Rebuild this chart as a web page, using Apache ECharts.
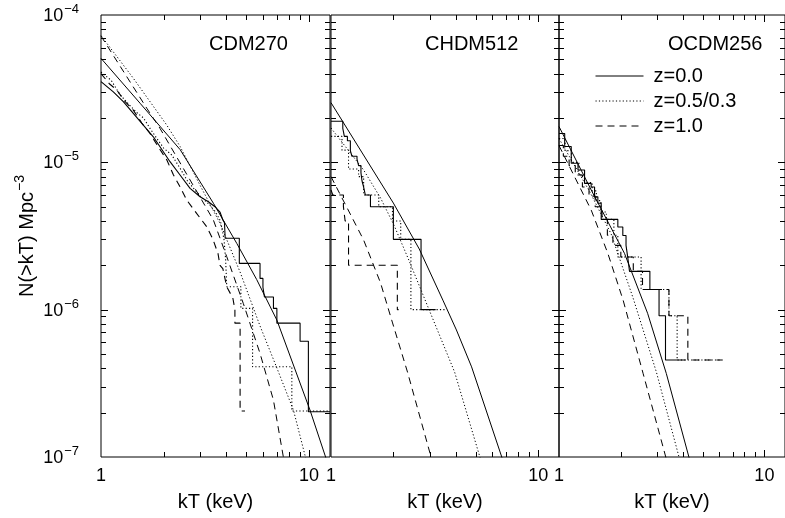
<!DOCTYPE html>
<html><head><meta charset="utf-8">
<script src="https://cdn.jsdelivr.net/npm/echarts@6/dist/echarts.min.js"></script>
<style>html,body{margin:0;padding:0;background:#fff}#c{width:785px;height:518px}</style>
</head><body><div id="c"></div>
<script>
// ---------- data (kT in keV, N(>kT) in Mpc^-3) ----------
const panelTitles = ['CDM270', 'CHDM512', 'OCDM256'];
const legendNames = ['z=0.0', 'z=0.5/0.3', 'z=1.0'];
const xTickLabelValues = [1, 10];

// CDM270 : analytic curves
const cdmFitZ0  = [[1,5.08e-5],[1.54,2.52e-5],[2.40,1.22e-5],[3.47,5.27e-6],[4.49,2.82e-6],[5.6,1.6e-6],[7.0,8.5e-7],[10.1,2.08e-7],[12.0,1e-7],[12.6,8e-8]];
const cdmFitZ05 = [[1,7.25e-5],[1.43,3.72e-5],[2.07,1.79e-5],[2.40,1.28e-5],[2.99,7.0e-6],[3.73,3.86e-6],[4.66,1.80e-6],[5.81,7.75e-7],[7.0,4.02e-7],[8.41,2.08e-7],[9.6,1e-7],[10.0,8e-8]];
const cdmFitZ1  = [[1,7.2e-5],[1.659,2.33e-5],[1.921,1.70e-5],[3.467,4.06e-6],[4.02,2.29e-6],[4.83,1.10e-6],[5.81,5.05e-7],[6.74,2.43e-7],[7.52,1e-7],[7.7,8e-8]];
// CDM270 : simulated cumulative counts (polyline through the histogram corners)
const cdmSimZ0  = [[1.0,3.53e-5],[1.146,3.01e-5],[1.28,2.58e-5],[1.43,2.15e-5],[1.597,1.79e-5],[1.784,1.49e-5],[1.993,1.18e-5],[2.146,1.01e-5],[2.398,8.2e-6],[2.679,6.66e-6],[2.992,5.84e-6],[3.28,5.4e-6],[3.53,5.0e-6],[3.73,4.6e-6],[3.85,4.06e-6],[3.92,3.9e-6],[3.95,3.05e-6],[4.62,3.05e-6],[4.62,2.06e-6],[5.81,2.06e-6],[5.81,1.63e-6],[6.0,1.63e-6],[6.0,1.42e-6],[6.10,1.42e-6],[6.10,1.22e-6],[6.74,1.22e-6],[6.74,1.02e-6],[7.0,1.02e-6],[7.0,8.1e-7],[9.05,8.1e-7],[9.05,6.1e-7],[9.92,6.1e-7],[9.92,2.03e-7],[12.6,2.03e-7]];
const cdmSimZ05 = [[1.0,4.1e-5],[1.12,3.6e-5],[1.23,2.9e-5],[1.35,2.5e-5],[1.5,2.15e-5],[1.6,2.0e-5],[1.72,1.7e-5],[1.85,1.46e-5],[2.0,1.25e-5],[2.19,1.12e-5],[2.4,9.1e-6],[2.6,7.5e-6],[2.8,6.6e-6],[3.0,5.9e-6],[3.3,5.2e-6],[3.55,4.6e-6],[3.75,4.0e-6],[3.9,3.0e-6],[3.97,2.2e-6],[4.02,1.43e-6],[4.70,1.43e-6],[4.70,1.02e-6],[5.35,1.02e-6],[5.35,4.1e-7],[8.26,4.1e-7],[8.26,2.05e-7],[12.6,2.05e-7]];
const cdmSimZ1  = [[1.0,4.0e-5],[1.1,3.4e-5],[1.19,3.1e-5],[1.3,2.6e-5],[1.43,2.26e-5],[1.57,1.85e-5],[1.72,1.57e-5],[1.9,1.25e-5],[2.07,1.04e-5],[2.23,8.2e-6],[2.4,6.8e-6],[2.58,5.55e-6],[2.88,4.5e-6],[3.22,3.66e-6],[3.45,3.0e-6],[3.65,2.4e-6],[3.73,2.0e-6],[3.85,1.9e-6],[4.02,1.43e-6],[4.3,1.2e-6],[4.4,1.0e-6],[4.4,8.1e-7],[4.66,8.1e-7],[4.66,2.05e-7],[4.92,2.05e-7]];

// CHDM512 : analytic curves
const chdmFitZ0  = [[1,2.54e-5],[2.0,5.29e-6],[2.667,2.58e-6],[3.467,1.16e-6],[4.03,7.28e-7],[4.77,4.09e-7],[6.67,1e-7],[7.0,8.2e-8]];
const chdmFitZ05 = [[1,1.71e-5],[1.437,8.87e-6],[1.734,5.73e-6],[2.013,3.75e-6],[2.375,2.17e-6],[2.82,1.2e-6],[3.95,3.77e-7],[5.23,1e-7],[5.5,8e-8]];
const chdmFitZ1  = [[1,8.0e-6],[1.437,2.97e-6],[1.734,1.52e-6],[1.976,8.24e-7],[2.34,3.77e-7],[3.04,1e-7],[3.15,8.5e-8]];
// CHDM512 : simulated (step levels, each level holds until the next kT)
const chdmSimZ0  = [[1.0,1.9e-5],[1.14,1.7e-5],[1.16,1.5e-5],[1.20,1.4e-5],[1.24,1.2e-5],[1.262,1.1e-5],[1.335,1.05e-5],[1.359,9.5e-6],[1.395,8.5e-6],[1.411,7.5e-6],[1.437,6.8e-6],[1.465,6e-6],[1.55,5e-6],[2.0,3e-6],[2.72,1e-6],[3.2,1e-6]];
const chdmSimZ05 = [[1.0,1.5e-5],[1.13,1.21e-5],[1.215,9e-6],[1.359,8e-6],[1.437,6e-6],[1.70,5e-6],[1.98,4e-6],[2.17,3e-6],[2.43,1e-6],[3.53,1e-6]];
const chdmSimZ1  = [[1.0,6.5e-6],[1.02,6e-6],[1.148,5e-6],[1.17,4e-6],[1.215,2e-6],[2.09,1e-6],[2.12,1e-6]];

// OCDM256 : analytic curves
const ocdmFitZ0  = [[1,1.75e-5],[1.435,6.49e-6],[2.084,2.41e-6],[2.70,9.45e-7],[3.33,3.69e-7],[4.29,1e-7],[4.45,8.5e-8]];
const ocdmFitZ05 = [[1,1.45e-5],[1.414,6.29e-6],[1.795,3.26e-6],[2.295,1.2e-6],[2.98,3.77e-7],[3.84,1e-7],[3.95,8.7e-8]];
const ocdmFitZ1  = [[1,1.3e-5],[1.435,4.74e-6],[1.729,2.41e-6],[2.052,1.16e-6],[2.566,3.70e-7],[3.31,1e-7],[3.4,8.7e-8]];
// OCDM256 : simulated (step levels)
const ocdmSimZ0  = [[1.0,1.57e-5],[1.066,1.28e-5],[1.147,9.85e-6],[1.237,8.87e-6],[1.332,7.2e-6],[1.434,6.8e-6],[1.49,5.83e-6],[1.546,5.27e-6],[1.605,4.1e-6],[1.934,3.64e-6],[2.045,3.19e-6],[2.12,2.73e-6],[2.16,2.28e-6],[2.205,1.82e-6],[2.77,1.37e-6],[3.07,9.1e-7],[3.30,4.55e-7],[4.14,4.55e-7]];
const ocdmSimZ05 = [[1.0,1.45e-5],[1.07,1.2e-5],[1.15,1.0e-5],[1.25,8.2e-6],[1.33,7.3e-6],[1.45,6.4e-6],[1.52,5.5e-6],[1.6,4.6e-6],[1.7,4.1e-6],[1.85,3.2e-6],[1.934,2.28e-6],[2.51,1.37e-6],[3.43,9.1e-7],[3.76,4.55e-7],[6.05,4.55e-7]];
const ocdmSimZ1  = [[1.0,1.3e-5],[1.05,1.1e-5],[1.12,9.5e-6],[1.2,8.2e-6],[1.3,6.8e-6],[1.4,5.9e-6],[1.5,5.0e-6],[1.62,4.1e-6],[1.72,3.2e-6],[1.83,2.73e-6],[2.0,2.28e-6],[2.3,1.82e-6],[2.55,1.37e-6],[3.43,9.1e-7],[4.24,4.55e-7],[6.27,4.55e-7]];

// ---------- layout ----------
const X_MIN = 1, X_MAX = 12.6, Y_MIN = 1e-7, Y_MAX = 1e-4;
const FONT = '"Liberation Sans", Arial, Helvetica, sans-serif';
const gridBoxes = [{left:101,width:229},{left:331,width:228},{left:559,width:227}];
const GRID_TOP = 15, GRID_H = 442;
const titlePos = [209, 425, 668];
const lineTypes = ['solid', [1.2, 2.2], [7, 5]];

const panels = [
  {fits:[cdmFitZ0, cdmFitZ05, cdmFitZ1],   sims:[cdmSimZ0, cdmSimZ05, cdmSimZ1],   simStep:false},
  {fits:[chdmFitZ0, chdmFitZ05, chdmFitZ1], sims:[chdmSimZ0, chdmSimZ05, chdmSimZ1], simStep:'end'},
  {fits:[ocdmFitZ0, ocdmFitZ05, ocdmFitZ1], sims:[ocdmSimZ0, ocdmSimZ05, ocdmSimZ1], simStep:'end'}
];

// tick positions (2..9 per decade)
const mults = [1,2,3,4,5,6,7,8,9];
const xTicks = [];
[0,1].forEach(e => mults.forEach(m => { const v = m*Math.pow(10,e); if (v > X_MIN && v <= X_MAX) xTicks.push({v, major: m===1}); }));
const yTicks = [];
[-7,-6,-5].forEach(e => mults.forEach(m => { const v = m*Math.pow(10,e); if (v > Y_MIN*1.0001 && v < Y_MAX*0.9999) yTicks.push({v, major: m===1}); }));

function tickSeries(i){
  return {
    type:'custom', xAxisIndex:i, yAxisIndex:i, silent:true, z:20, animation:false,
    data:[[X_MIN, Y_MIN]],
    renderItem(params, api){
      const ch = [];
      const ln = (x1,y1,x2,y2) => ch.push({type:'line', shape:{x1,y1,x2,y2}, style:{stroke:'#000', lineWidth:1}});
      xTicks.forEach(t => {
        const len = t.major ? 7 : 5;
        const b = api.coord([t.v, Y_MIN]), tp = api.coord([t.v, Y_MAX]);
        const x = Math.round(b[0]) + 0.5;
        ln(x, b[1], x, b[1]-len);
        ln(x, tp[1], x, tp[1]+len);
      });
      yTicks.forEach(t => {
        const len = t.major ? 7 : 5;
        const l = api.coord([X_MIN, t.v]), r = api.coord([X_MAX, t.v]);
        const y = Math.round(l[1]) + 0.5;
        ln(l[0], y, l[0]+len, y);
        ln(r[0], y, r[0]-len, y);
      });
      return {type:'group', children:ch};
    }
  };
}

const grids = gridBoxes.map(g => ({left:g.left, width:g.width, top:GRID_TOP, height:GRID_H, show:true, borderColor:'#000', borderWidth:1, backgroundColor:'transparent'}));

const xAxes = gridBoxes.map((g,i) => ({
  type:'log', logBase:10, gridIndex:i, min:X_MIN, max:X_MAX,
  axisLine:{show:false}, axisTick:{show:false}, splitLine:{show:false}, minorTick:{show:false},
  axisLabel:{show:true, color:'#000', fontSize:18, fontFamily:FONT, margin:10, showMaxLabel:false,
    formatter: v => xTickLabelValues.some(t => Math.abs(t - v) < 1e-6) ? String(Math.round(v)) : ''},
  name:'kT (keV)', nameLocation:'middle', nameGap:35,
  nameTextStyle:{color:'#000', fontSize:20, fontFamily:FONT}
}));

const yAxes = gridBoxes.map((g,i) => ({
  type:'log', logBase:10, gridIndex:i, min:Y_MIN, max:Y_MAX,
  axisLine:{show:false}, axisTick:{show:false}, splitLine:{show:false}, minorTick:{show:false},
  axisLabel:{show:i===0, margin:22, color:'#000',
    formatter: v => '{b|10}{s|\u2212' + Math.round(-Math.log10(v)) + '}',
    rich:{ b:{fontSize:18, fontFamily:FONT, color:'#000', verticalAlign:'bottom', lineHeight:20},
           s:{fontSize:13, fontFamily:FONT, color:'#000', verticalAlign:'bottom', lineHeight:13, padding:[0,0,9,1]} }},
  name: i===0 ? '{t|N(>kT) Mpc}{s|\u22123}' : '',
  nameLocation:'middle', nameRotate:90, nameGap:64,
  nameTextStyle:{ rich:{ t:{fontSize:20, fontFamily:FONT, color:'#000', verticalAlign:'bottom', lineHeight:22},
                         s:{fontSize:14, fontFamily:FONT, color:'#000', verticalAlign:'bottom', lineHeight:14, padding:[0,0,10,1]} } }
}));

const series = [];
panels.forEach((p, i) => {
  p.fits.forEach((d, k) => series.push({
    name: legendNames[k], type:'line', xAxisIndex:i, yAxisIndex:i, data:d,
    symbol:'none', showSymbol:false, smooth:false, clip:true,
    lineStyle:{color:'#000', width:1, type:lineTypes[k]}, itemStyle:{color:'#000'}
  }));
  p.sims.forEach((d, k) => series.push({
    name: legendNames[k], type:'line', xAxisIndex:i, yAxisIndex:i, data:d,
    symbol:'none', showSymbol:false, step:p.simStep, clip:true,
    lineStyle:{color:'#000', width:1.1, type:lineTypes[k]}, itemStyle:{color:'#000'}
  }));
  series.push(tickSeries(i));
});

const chart = echarts.init(document.getElementById('c'), null, {renderer:'canvas'});
chart.setOption({
  backgroundColor:'#fff',
  animation:false,
  title: panelTitles.map((t,i) => ({text:t, left:titlePos[i], top:34, padding:0,
    textStyle:{color:'#000', fontSize:20, fontWeight:'normal', fontFamily:FONT}})),
  legend:{
    data: legendNames, left:595, top:66, orient:'vertical', padding:0,
    itemWidth:48, itemHeight:14, itemGap:5, selectedMode:false,
    itemStyle:{opacity:0},
    lineStyle:{color:'#000', width:1},
    textStyle:{color:'#000', fontSize:20, fontFamily:FONT, padding:[0,0,0,5], lineHeight:20}
  },
  grid: grids,
  xAxis: xAxes,
  yAxis: yAxes,
  series
});
</script>
</body></html>
